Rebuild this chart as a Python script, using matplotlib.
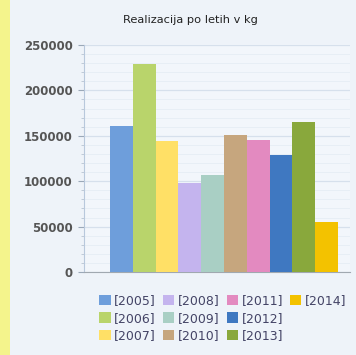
import matplotlib.pyplot as plt
from matplotlib.patches import Rectangle, Patch
from matplotlib.ticker import MultipleLocator

years = ["[2005]", "[2006]", "[2007]", "[2008]", "[2009]",
         "[2010]", "[2011]", "[2012]", "[2013]", "[2014]"]
values = [161000, 229000, 144000, 98000, 107000,
          151000, 145000, 129000, 165000, 55000]
colors = ["#6e9edb", "#b9d46b", "#ffe066", "#c4b4ee", "#a9cfc4",
          "#c6a67e", "#e38ac0", "#3f78c1", "#89a83c", "#f3c200"]

fig = plt.figure(figsize=(3.56, 3.55), dpi=100)
fig.patch.set_facecolor("#eef3f9")

# yellow strip at the left edge
fig.add_artist(Rectangle((0, 0), 10 / 356, 1, transform=fig.transFigure,
                         facecolor="#f4f48c", edgecolor="none"))

ax = fig.add_axes([84 / 356, 1 - 272 / 355, 266 / 356, 227 / 355])
ax.set_facecolor("#f2f6fb")

xs = range(len(values))
ax.bar(xs, values, width=1.0, color=colors, edgecolor="none", zorder=3)

ax.set_xlim(-1.64, 10.03)
ax.set_ylim(0, 250000)
ax.yaxis.set_major_locator(MultipleLocator(50000))
ax.yaxis.set_minor_locator(MultipleLocator(10000))
ax.set_xticks([])
ax.grid(axis="y", which="major", color="#d6e0ec", lw=0.9, zorder=0)
ax.grid(axis="y", which="minor", color="#e6edf5", lw=0.6, zorder=0)
ax.tick_params(axis="y", which="major", length=4, color="#9aa8b8",
               labelsize=8.5, labelcolor="#555555", pad=4)
ax.tick_params(axis="y", which="minor", length=2, color="#b8c4d2")
for s in ["top", "right"]:
    ax.spines[s].set_visible(False)
ax.spines["left"].set_color("#b8c8dc")
ax.spines["bottom"].set_color("#a0a8b0")
for lab in ax.get_yticklabels():
    lab.set_fontweight("bold")

fig.text(190 / 356, 1 - 20 / 355, "Realizacija po letih v kg",
         ha="center", va="center", fontsize=8.2, color="#222222")

# legend: 4 columns of 3 rows, the last column holds only 2014
handles = [Patch(facecolor=c, edgecolor="none") for c in colors]
labels = list(years)
blank = Patch(facecolor="none", edgecolor="none")
handles += [blank, blank]
labels += ["", ""]
fig.legend(handles, labels, ncol=4, loc="upper left",
           bbox_to_anchor=(93 / 356, 1 - 288 / 355), frameon=False,
           fontsize=9, labelcolor="#444466", handlelength=0.9,
           handleheight=0.9, handletextpad=0.3, columnspacing=0.55,
           labelspacing=0.35, borderpad=0)

fig.savefig("out.png", dpi=100, facecolor=fig.get_facecolor())
